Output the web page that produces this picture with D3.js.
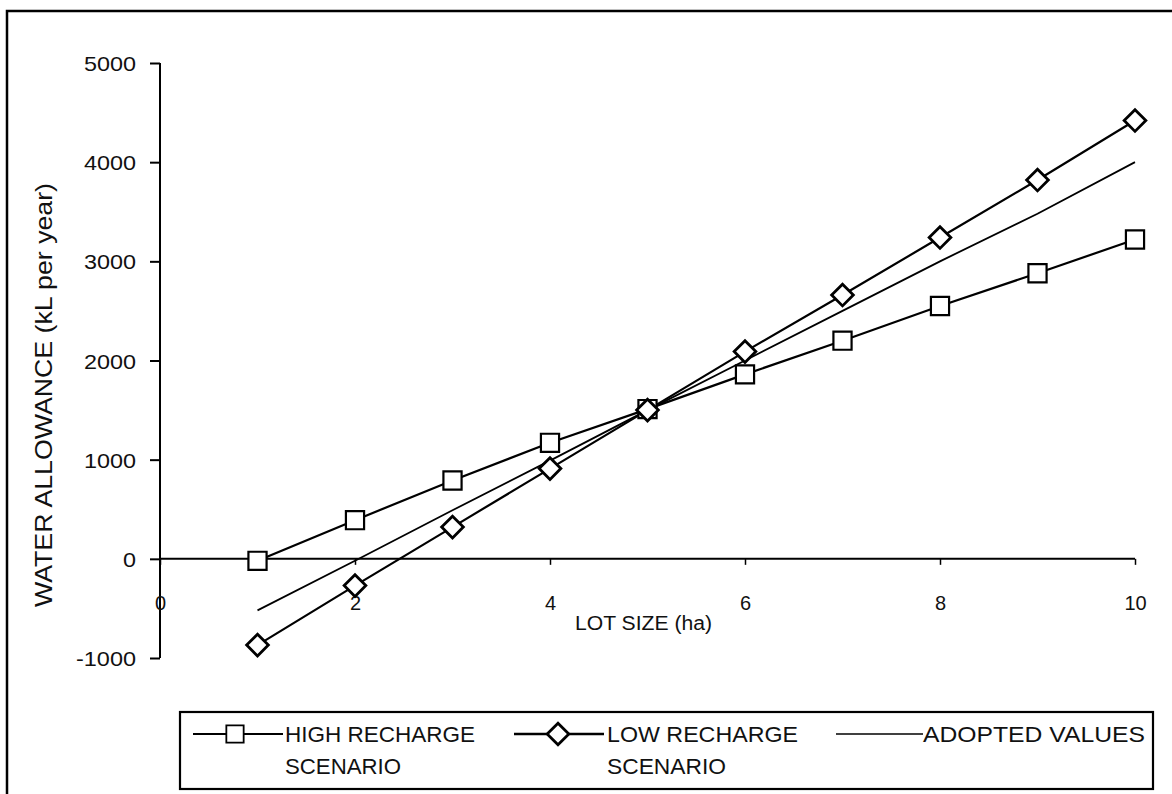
<!DOCTYPE html>
<html>
<head>
<meta charset="utf-8">
<script src="https://cdn.jsdelivr.net/npm/d3@7"></script>
<style>
  html, body { margin: 0; padding: 0; background: #fff; }
  svg { display: block; }
  text { font-family: "Liberation Sans", Arial, sans-serif; fill: #111; }
</style>
</head>
<body>
<svg id="chart" width="1172" height="794"></svg>
<script>
// ---- data ----
const lotSize = [1, 2, 3, 4, 5, 6, 7, 8, 9, 10];
const highRecharge = [-20, 390, 790, 1170, 1510, 1860, 2200, 2550, 2880, 3220];
const lowRecharge = [-870, -270, 320, 910, 1500, 2090, 2660, 3240, 3820, 4420];
const adoptedValues = [-520, -20, 490, 990, 1500, 2000, 2500, 3000, 3480, 4000];
const xTicks = [0, 2, 4, 6, 8, 10];
const yTicks = [-1000, 0, 1000, 2000, 3000, 4000, 5000];
const legendLabels = [["HIGH RECHARGE", "SCENARIO"], ["LOW RECHARGE", "SCENARIO"], ["ADOPTED VALUES"]];

const FONT = '"Liberation Sans", Arial, sans-serif';
const svg = d3.select("#chart");

// outer frame (partly cropped)
svg.append("rect").attr("x", 7).attr("y", 11).attr("width", 1200).attr("height", 800)
  .attr("fill", "none").attr("stroke", "#000").attr("stroke-width", 2.5);

const x = d3.scaleLinear().domain([0, 10]).range([160, 1135]);
const y = d3.scaleLinear().domain([-1000, 5000]).range([658, 63]);
const fmt = d => String(d); // plain hyphen minus as in the reference

// y axis
const yAxis = svg.append("g").attr("transform", `translate(${x(0)},0)`)
  .call(d3.axisLeft(y).tickValues(yTicks).tickSize(10).tickPadding(14).tickFormat(fmt));
yAxis.attr("font-size", null).attr("font-family", null);
yAxis.select(".domain").attr("stroke-width", 2).attr("d", `M-0,${y(5000)}V${y(-1000)}`);
yAxis.selectAll(".tick line").attr("stroke-width", 2);
yAxis.selectAll(".tick text").style("font-size", "21px").style("font-family", FONT)
  .attr("dy", "0.36em")
  .attr("textLength", d => { const s = String(d); return s.replace("-", "").length * 13 + (s[0] === "-" ? 8 : 0); })
  .attr("lengthAdjust", "spacingAndGlyphs");

// x axis at y = 0
const xAxis = svg.append("g").attr("transform", `translate(0,${y(0)})`)
  .call(d3.axisBottom(x).tickValues(xTicks).tickSize(6).tickPadding(45).tickFormat(fmt));
xAxis.attr("font-size", null).attr("font-family", null);
xAxis.select(".domain").attr("stroke-width", 2).attr("d", `M${x(0)},0H${x(10)}`);
xAxis.selectAll(".tick line").attr("stroke-width", 1.5);
xAxis.selectAll(".tick text").style("font-size", "20px").style("font-family", FONT).attr("dy", "0");
svg.selectAll(".domain, .tick line").attr("stroke", "#000");
svg.selectAll(".tick text").attr("fill", "#111");

// axis titles
svg.append("text").attr("x", 575).attr("y", 630)
  .style("font-size", "20px").attr("textLength", 137).attr("lengthAdjust", "spacingAndGlyphs")
  .text("LOT SIZE (ha)");
svg.append("text").attr("transform", `translate(52,${395}) rotate(-90)`).attr("text-anchor", "middle")
  .style("font-size", "24px").attr("textLength", 424).attr("lengthAdjust", "spacingAndGlyphs")
  .text("WATER ALLOWANCE (kL per year)");

const line = d3.line().x((d, i) => x(lotSize[i])).y(d => y(d));

svg.append("path").datum(adoptedValues).attr("d", line)
  .attr("fill", "none").attr("stroke", "#000").attr("stroke-width", 1.8);
svg.append("path").datum(highRecharge).attr("d", line)
  .attr("fill", "none").attr("stroke", "#000").attr("stroke-width", 2.2);
svg.append("path").datum(lowRecharge).attr("d", line)
  .attr("fill", "none").attr("stroke", "#000").attr("stroke-width", 2.2);

const sqSym = d3.symbol().type(d3.symbolSquare).size(330);
const diaSym = d3.symbol().type(d3.symbolSquare).size(235);

svg.append("g").selectAll("path").data(highRecharge).join("path")
  .attr("d", sqSym)
  .attr("transform", (d, i) => `translate(${x(lotSize[i])},${y(d)})`)
  .attr("fill", "#fff").attr("stroke", "#000").attr("stroke-width", 2.2);

svg.append("g").selectAll("path").data(lowRecharge).join("path")
  .attr("d", diaSym)
  .attr("transform", (d, i) => `translate(${x(lotSize[i])},${y(d)}) rotate(45)`)
  .attr("fill", "#fff").attr("stroke", "#000").attr("stroke-width", 2.8);

// legend
const lg = svg.append("g");
lg.append("rect").attr("x", 180).attr("y", 712).attr("width", 973).attr("height", 77)
  .attr("fill", "#fff").attr("stroke", "#000").attr("stroke-width", 2.2);
const ly = 734;
const addText = (tx, ty, s, len) => lg.append("text").attr("x", tx).attr("y", ty)
  .style("font-size", "22px").attr("textLength", len).attr("lengthAdjust", "spacingAndGlyphs").text(s);
// item 1
lg.append("line").attr("x1", 193).attr("x2", 283).attr("y1", ly).attr("y2", ly).attr("stroke", "#000").attr("stroke-width", 1.8);
lg.append("path").attr("d", d3.symbol().type(d3.symbolSquare).size(300)).attr("transform", `translate(235,${ly})`)
  .attr("fill", "#fff").attr("stroke", "#000").attr("stroke-width", 1.8);
addText(285, 742, legendLabels[0][0], 190);
addText(285, 774, legendLabels[0][1], 116);
// item 2
lg.append("line").attr("x1", 514).attr("x2", 604).attr("y1", ly).attr("y2", ly).attr("stroke", "#000").attr("stroke-width", 2.4);
lg.append("path").attr("d", diaSym).attr("transform", `translate(558,${ly}) rotate(45)`)
  .attr("fill", "#fff").attr("stroke", "#000").attr("stroke-width", 2.8);
addText(607, 742, legendLabels[1][0], 191);
addText(607, 774, legendLabels[1][1], 119);
// item 3
lg.append("line").attr("x1", 836).attr("x2", 923).attr("y1", ly).attr("y2", ly).attr("stroke", "#000").attr("stroke-width", 1.6);
addText(923, 742, legendLabels[2][0], 222);
</script>
</body>
</html>
